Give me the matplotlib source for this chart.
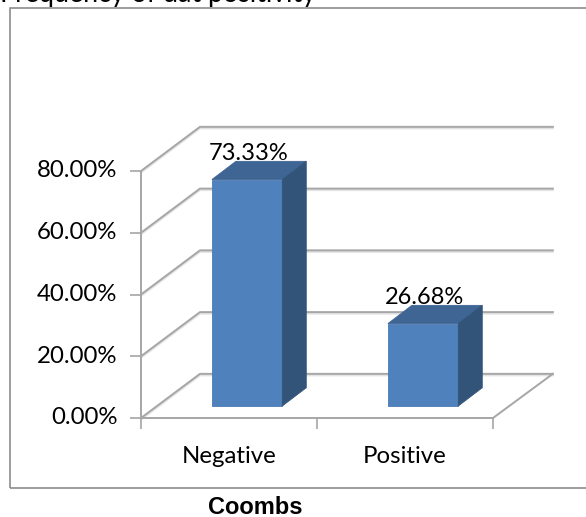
import matplotlib
matplotlib.use('Agg')
import matplotlib.pyplot as plt
from matplotlib.patches import Polygon, Rectangle

plt.rcParams['font.family'] = ['Lato', 'DejaVu Sans']

categories = ['Negative', 'Positive']
values = [73.33, 26.68]
value_labels = ['73.33%', '26.68%']
y_ticks = [0, 20, 40, 60, 80]
y_tick_labels = ['0.00%', '20.00%', '40.00%', '60.00%', '80.00%']

W, H = 586, 517
fig = plt.figure(figsize=(W / 100, H / 100), dpi=100)

# outer chart frame, runs off the right edge
fig.add_artist(Rectangle((10 / W, 1 - 488 / H), 600 / W, 480 / H, fill=False,
                         edgecolor='#8c8c8c', linewidth=1.2, transform=fig.transFigure))

ax = fig.add_axes([141 / W, 1 - 418 / H, 352 / W, 247 / H])
ax.set_xlim(0, 2)
ax.set_ylim(0, 80)
ax.patch.set_visible(False)

# oblique offsets for the fake 3d look
wall_dx, wall_dy = 0.335, 14.3
wall_right = 2.34
bar_left = [0.403, 1.403]
bar_w = 0.4
bar_dx, bar_dy = 0.136, 5.9
bar_lift = 3.9

grid_col = '#a6a6a6'
for t in y_ticks:
    xs = [0, wall_dx, wall_right]
    ys = [t, t + wall_dy, t + wall_dy]
    ax.plot(xs, [y - 0.5 for y in ys], color='#e2e2e2', lw=1.4, clip_on=False, zorder=1)
    ax.plot(xs, ys, color=grid_col, lw=1.4, clip_on=False, zorder=2)
# right edge of the floor
ax.plot([2, wall_right], [0, wall_dy], color=grid_col, lw=1.4, clip_on=False, zorder=2)

for left, v, lab in zip(bar_left, values, value_labels):
    b = bar_lift
    r = left + bar_w
    ax.add_patch(Rectangle((left, b), bar_w, v, facecolor='#4f81bd', edgecolor='#4a7ab5',
                           lw=0.6, zorder=4, clip_on=False))
    ax.add_patch(Polygon([(left, b + v), (r, b + v), (r + bar_dx, b + v + bar_dy),
                          (left + bar_dx, b + v + bar_dy)], facecolor='#3f6594',
                         edgecolor='#3f6594', lw=0.6, zorder=4, clip_on=False))
    ax.add_patch(Polygon([(r, b), (r + bar_dx, b + bar_dy), (r + bar_dx, b + v + bar_dy),
                          (r, b + v)], facecolor='#335479', edgecolor='#335479',
                         lw=0.6, zorder=4, clip_on=False))
    ax.text(left + bar_w / 2 + 0.01, b + v + bar_dy - 0.8, lab, ha='center', va='bottom',
            fontsize=17, color='black', zorder=5)

for s in ['top', 'right']:
    ax.spines[s].set_visible(False)
for s in ['left', 'bottom']:
    ax.spines[s].set_color(grid_col)
    ax.spines[s].set_linewidth(1.4)

ax.set_yticks(y_ticks)
ax.set_yticklabels(y_tick_labels, fontsize=17.3)
ax.set_xticks([0, 1, 2])
ax.set_xticklabels(['', '', ''])
ax.set_xticks([0.5, 1.5], minor=True)
ax.set_xticklabels(categories, minor=True, fontsize=17.3)
ax.tick_params(axis='both', which='major', color=grid_col, width=1.2, length=8)
ax.tick_params(axis='y', pad=9)
ax.tick_params(axis='x', which='minor', length=0, pad=20)
for lab in ax.get_yticklabels():
    lab.set_y(lab.get_position()[1])
    lab.set_verticalalignment('center')

fig.text(255 / W, 1 - 507 / H, 'Coombs', family='Liberation Sans', fontweight='bold',
         fontsize=17, ha='center', va='center')
fig.text(0, 1 - 2 / H, 'Frequency of dat positivity', fontsize=19.3, ha='left', va='baseline')

fig.savefig('out.png', dpi=100)
